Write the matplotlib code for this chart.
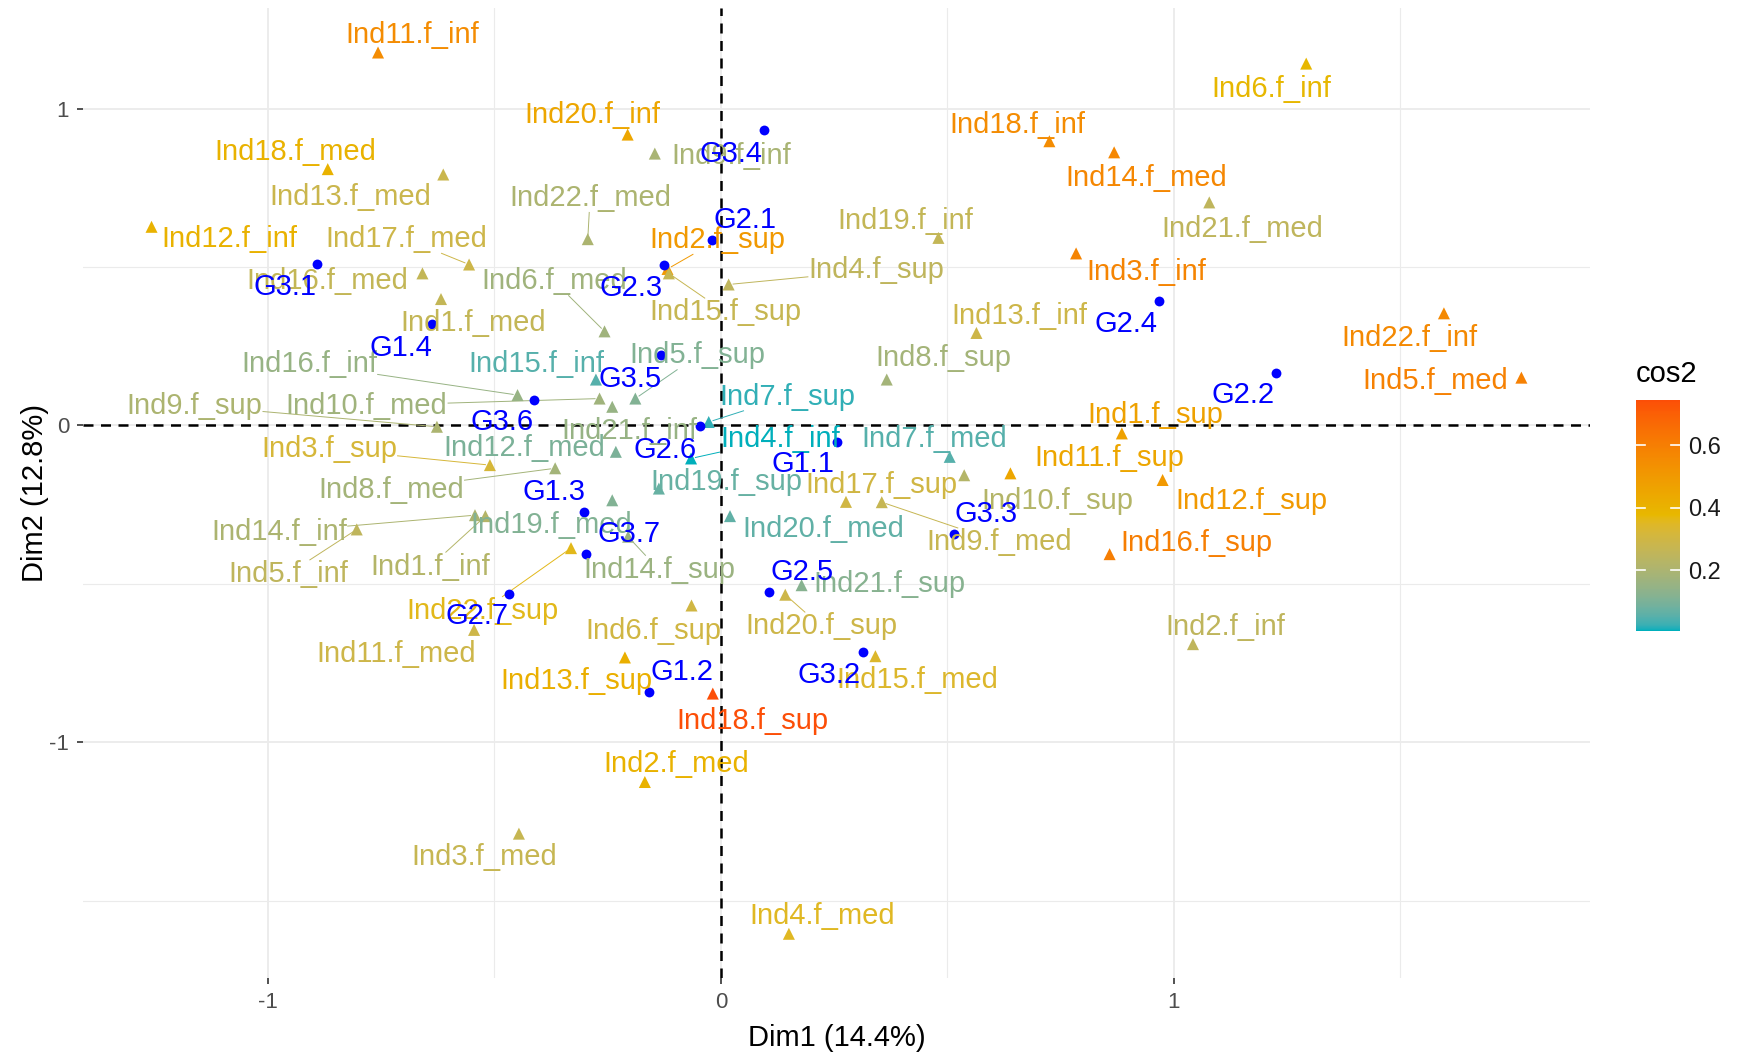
"""Individual factor map: partial points coloured by cos2, group points in blue."""

import matplotlib
matplotlib.use("Agg")
import matplotlib.pyplot as plt
import numpy as np
from matplotlib.cm import ScalarMappable
from matplotlib.colors import ListedColormap, Normalize, to_rgb

plt.rcParams["font.family"] = ["Liberation Sans", "DejaVu Sans"]
plt.rcParams["axes.unicode_minus"] = False

# ---- data: partial individuals (triangles) ---------------------------------
IND_NAMES = [
    "Ind1.f_inf", "Ind2.f_inf", "Ind3.f_inf", "Ind4.f_inf", "Ind5.f_inf",
    "Ind6.f_inf", "Ind9.f_inf", "Ind11.f_inf", "Ind12.f_inf", "Ind13.f_inf",
    "Ind14.f_inf", "Ind15.f_inf", "Ind16.f_inf", "Ind18.f_inf", "Ind19.f_inf",
    "Ind20.f_inf", "Ind21.f_inf", "Ind22.f_inf",
    "Ind1.f_med", "Ind2.f_med", "Ind3.f_med", "Ind4.f_med", "Ind5.f_med",
    "Ind6.f_med", "Ind7.f_med", "Ind8.f_med", "Ind9.f_med", "Ind10.f_med",
    "Ind11.f_med", "Ind12.f_med", "Ind13.f_med", "Ind14.f_med", "Ind15.f_med",
    "Ind16.f_med", "Ind17.f_med", "Ind18.f_med", "Ind19.f_med", "Ind20.f_med",
    "Ind21.f_med", "Ind22.f_med",
    "Ind1.f_sup", "Ind2.f_sup", "Ind3.f_sup", "Ind4.f_sup", "Ind5.f_sup",
    "Ind6.f_sup", "Ind7.f_sup", "Ind8.f_sup", "Ind9.f_sup", "Ind10.f_sup",
    "Ind11.f_sup", "Ind12.f_sup", "Ind13.f_sup", "Ind14.f_sup", "Ind15.f_sup",
    "Ind16.f_sup", "Ind17.f_sup", "Ind18.f_sup", "Ind19.f_sup", "Ind20.f_sup",
    "Ind21.f_sup", "Ind22.f_sup",
]
IND_DIM1 = [
    -0.520, 1.042, 0.784, -0.066, -0.804, 1.292, -0.146, -0.757, -1.257, 0.564,
    -0.543, -0.276, -0.449, 0.725, 0.480, -0.206, -0.240, 1.596,
    -0.618, -0.168, -0.446, 0.150, 1.767, -0.257, 0.505, -0.366, 0.355, -0.268,
    -0.545, -0.232, -0.613, 0.868, 0.341, -0.659, -0.556, -0.868, -0.240, 0.020,
    1.078, -0.294,
    0.885, -0.118, -0.510, 0.017, -0.189, -0.065, -0.027, 0.366, -0.627, 0.537,
    0.639, 0.975, -0.212, -0.205, -0.115, 0.858, 0.276, -0.018, -0.137, 0.142,
    0.178, -0.331,
]
IND_DIM2 = [
    -0.286, -0.690, 0.543, -0.104, -0.328, 1.142, 0.858, 1.177, 0.627, 0.292,
    -0.283, 0.145, 0.096, 0.897, 0.592, 0.918, 0.059, 0.354,
    0.399, -1.125, -1.288, -1.604, 0.151, 0.297, -0.099, -0.135, -0.242, 0.085,
    -0.645, -0.083, 0.792, 0.862, -0.728, 0.480, 0.508, 0.809, -0.236, -0.286,
    0.704, 0.588,
    -0.025, 0.494, -0.125, 0.445, 0.085, -0.568, 0.011, 0.145, -0.004, -0.157,
    -0.151, -0.172, -0.732, -0.351, 0.480, -0.406, -0.241, -0.846, -0.199, -0.534,
    -0.504, -0.387,
]
IND_COS2 = [
    0.22, 0.25, 0.58, 0.005, 0.25, 0.38, 0.19, 0.55, 0.40, 0.29,
    0.20, 0.05, 0.15, 0.55, 0.26, 0.45, 0.15, 0.56,
    0.26, 0.40, 0.27, 0.35, 0.59, 0.17, 0.05, 0.18, 0.27, 0.17,
    0.29, 0.10, 0.28, 0.57, 0.34, 0.26, 0.29, 0.40, 0.11, 0.06,
    0.25, 0.20,
    0.47, 0.50, 0.32, 0.25, 0.11, 0.30, 0.02, 0.18, 0.20, 0.22,
    0.45, 0.50, 0.41, 0.16, 0.27, 0.60, 0.30, 0.745, 0.07, 0.29,
    0.12, 0.36,
]

# ---- data: group points (blue dots) ----------------------------------------
GROUP_NAMES = [
    "G1.1", "G1.2", "G1.3", "G1.4",
    "G2.1", "G2.2", "G2.3", "G2.4", "G2.5", "G2.6", "G2.7",
    "G3.1", "G3.2", "G3.3", "G3.4", "G3.5", "G3.6", "G3.7",
]
GROUP_DIM1 = [
    0.257, -0.159, -0.303, -0.637,
    -0.020, 1.225, -0.125, 0.968, 0.105, -0.047, -0.468,
    -0.892, 0.314, 0.515, 0.096, -0.132, -0.412, -0.299,
]
GROUP_DIM2 = [
    -0.052, -0.841, -0.272, 0.319,
    0.585, 0.165, 0.508, 0.392, -0.525, -0.002, -0.531,
    0.511, -0.716, -0.341, 0.932, 0.221, 0.082, -0.406,
]

# ---- layout: where the repelled labels ended up (data units) ----------------
IND_LABEL_POS = {
    "Ind11.f_inf": (-0.681, 1.233), "Ind20.f_inf": (-0.284, 0.981),
    "Ind9.f_inf": (0.022, 0.851), "Ind18.f_med": (-0.939, 0.862),
    "Ind13.f_med": (-0.819, 0.722), "Ind22.f_med": (-0.289, 0.718),
    "Ind12.f_inf": (-1.086, 0.588), "Ind17.f_med": (-0.694, 0.588),
    "Ind2.f_sup": (-0.007, 0.585), "Ind19.f_inf": (0.407, 0.644),
    "Ind18.f_inf": (0.654, 0.949), "Ind14.f_med": (0.939, 0.781),
    "Ind6.f_inf": (1.216, 1.061), "Ind21.f_med": (1.150, 0.620),
    "Ind3.f_inf": (0.939, 0.483), "Ind4.f_sup": (0.343, 0.490),
    "Ind16.f_med": (-0.870, 0.455), "Ind6.f_med": (-0.368, 0.455),
    "Ind15.f_sup": (0.010, 0.357), "Ind13.f_inf": (0.659, 0.347),
    "Ind1.f_med": (-0.547, 0.322), "Ind22.f_inf": (1.520, 0.277),
    "Ind16.f_inf": (-0.909, 0.193), "Ind15.f_inf": (-0.407, 0.193),
    "Ind5.f_sup": (-0.051, 0.221), "Ind8.f_sup": (0.490, 0.214),
    "Ind5.f_med": (1.576, 0.140), "Ind7.f_sup": (0.147, 0.091),
    "Ind9.f_sup": (-1.162, 0.063), "Ind10.f_med": (-0.782, 0.063),
    "Ind21.f_inf": (-0.203, -0.018), "Ind1.f_sup": (0.958, 0.032),
    "Ind4.f_inf": (0.130, -0.042), "Ind7.f_med": (0.471, -0.042),
    "Ind3.f_sup": (-0.865, -0.074), "Ind12.f_med": (-0.434, -0.070),
    "Ind11.f_sup": (0.858, -0.102), "Ind8.f_med": (-0.728, -0.203),
    "Ind19.f_sup": (0.012, -0.179), "Ind17.f_sup": (0.355, -0.189),
    "Ind10.f_sup": (0.743, -0.238), "Ind12.f_sup": (1.172, -0.238),
    "Ind19.f_med": (-0.375, -0.315), "Ind20.f_med": (0.225, -0.326),
    "Ind14.f_inf": (-0.975, -0.336), "Ind9.f_med": (0.615, -0.368),
    "Ind16.f_sup": (1.049, -0.371), "Ind1.f_inf": (-0.642, -0.445),
    "Ind5.f_inf": (-0.956, -0.469), "Ind14.f_sup": (-0.137, -0.455),
    "Ind21.f_sup": (0.373, -0.501), "Ind22.f_sup": (-0.527, -0.585),
    "Ind6.f_sup": (-0.150, -0.648), "Ind20.f_sup": (0.221, -0.634),
    "Ind2.f_inf": (1.113, -0.637), "Ind11.f_med": (-0.718, -0.722),
    "Ind13.f_sup": (-0.319, -0.806), "Ind15.f_med": (0.434, -0.802),
    "Ind18.f_sup": (0.069, -0.932), "Ind2.f_med": (-0.098, -1.068),
    "Ind3.f_med": (-0.522, -1.363), "Ind4.f_med": (0.223, -1.548),
}
GROUP_LABEL_POS = {
    "G1.1": (0.181, -0.123), "G1.2": (-0.086, -0.778), "G1.3": (-0.368, -0.210),
    "G1.4": (-0.706, 0.245), "G2.1": (0.054, 0.648), "G2.2": (1.152, 0.095),
    "G2.3": (-0.199, 0.434), "G2.4": (0.895, 0.319), "G2.5": (0.179, -0.462),
    "G2.6": (-0.123, -0.077), "G2.7": (-0.539, -0.602), "G3.1": (-0.963, 0.438),
    "G3.2": (0.238, -0.788), "G3.3": (0.586, -0.280), "G3.4": (0.022, 0.858),
    "G3.5": (-0.201, 0.147), "G3.6": (-0.483, 0.011), "G3.7": (-0.203, -0.343),
}
# labels pushed far enough that ggrepel drew a leader segment
SEGMENTED = {
    "Ind22.f_med", "Ind17.f_med", "Ind6.f_med", "Ind2.f_sup", "Ind15.f_sup",
    "Ind4.f_sup", "Ind16.f_inf", "Ind9.f_sup", "Ind10.f_med", "Ind3.f_sup",
    "Ind8.f_med", "Ind14.f_inf", "Ind5.f_inf", "Ind1.f_inf", "Ind22.f_sup",
    "Ind5.f_sup", "Ind7.f_sup", "Ind4.f_inf", "Ind14.f_sup", "Ind9.f_med",
    "Ind20.f_sup",
}

GRADIENT = ["#00AFBB", "#E7B800", "#FC4E07"]
GROUP_COLOR = "#0000FF"
LABEL_SIZE = 21

_WHITE = np.array([0.95047, 1.0, 1.08883])
_M = np.array([[0.4124, 0.3576, 0.1805],
               [0.2126, 0.7152, 0.0722],
               [0.0193, 0.1192, 0.9505]])


def rgb_to_lab(rgb):
    c = np.asarray(rgb, float)
    c = np.where(c <= 0.04045, c / 12.92, ((c + 0.055) / 1.055) ** 2.4)
    xyz = _M @ c / _WHITE
    f = np.where(xyz > 0.008856, np.cbrt(xyz), 7.787 * xyz + 16 / 116)
    return np.array([116 * f[1] - 16, 500 * (f[0] - f[1]), 200 * (f[1] - f[2])])


def lab_to_rgb(lab):
    L, a, b = lab
    fy = (L + 16) / 116
    f = np.array([fy + a / 500, fy, fy - b / 200])
    xyz = np.where(f ** 3 > 0.008856, f ** 3, (f - 16 / 116) / 7.787) * _WHITE
    c = np.linalg.solve(_M, xyz)
    c = np.where(c <= 0.0031308, 12.92 * c, 1.055 * np.clip(c, 0, None) ** (1 / 2.4) - 0.055)
    return np.clip(c, 0, 1)


def lab_gradient(hexes, n=256):
    """Colour map interpolated in Lab space, like scales::gradient_n_pal."""
    labs = [rgb_to_lab(to_rgb(h)) for h in hexes]
    stops = np.linspace(0, 1, len(hexes))
    out = []
    for t in np.linspace(0, 1, n):
        i = min(np.searchsorted(stops, t, side="right") - 1, len(hexes) - 2)
        w = (t - stops[i]) / (stops[i + 1] - stops[i])
        out.append(lab_to_rgb((1 - w) * labs[i] + w * labs[i + 1]))
    return ListedColormap(out, name="cos2")


def add_segment(ax, text, x, y, color, renderer):
    """ggrepel-like segment from the label box edge to its point."""
    bb = text.get_window_extent(renderer)
    px, py = ax.transData.transform((x, y))
    cx, cy = (bb.x0 + bb.x1) / 2, (bb.y0 + bb.y1) / 2
    dx, dy = px - cx, py - cy
    tx = (bb.width / 2) / abs(dx) if dx else np.inf
    ty = (bb.height / 2) / abs(dy) if dy else np.inf
    t = min(tx, ty)
    sx, sy = cx + dx * t, cy + dy * t
    gap = np.hypot(px - sx, py - sy)
    if gap < 4:
        return
    ex, ey = px - (px - sx) / gap * 4, py - (py - sy) / gap * 4
    inv = ax.transData.inverted()
    (x0, y0), (x1, y1) = inv.transform([(sx, sy), (ex, ey)])
    ax.plot([x0, x1], [y0, y1], color=color, lw=0.7, zorder=2.5,
            solid_capstyle="butt")


def main():
    cmap = lab_gradient(GRADIENT)
    norm = Normalize(vmin=min(IND_COS2), vmax=max(IND_COS2))
    colors = cmap(norm(np.array(IND_COS2)))

    fig = plt.figure(figsize=(17.41, 10.56), dpi=100, facecolor="white")
    ax = fig.add_axes([0.0477, 0.074, 0.8655, 0.918])

    all_x = np.array(IND_DIM1 + GROUP_DIM1)
    all_y = np.array(IND_DIM2 + GROUP_DIM2)
    xr, yr = np.ptp(all_x), np.ptp(all_y)
    ax.set_xlim(all_x.min() - 0.05 * xr, all_x.max() + 0.05 * xr)
    ax.set_ylim(all_y.min() - 0.05 * yr, all_y.max() + 0.05 * yr)

    # theme_minimal-ish grid
    ax.set_xticks([-1, 0, 1])
    ax.set_yticks([-1, 0, 1])
    ax.set_xticks([-0.5, 0.5, 1.5], minor=True)
    ax.set_yticks([-1.5, -0.5, 0.5], minor=True)
    ax.grid(True, which="major", color="#EBEBEB", lw=1.3, zorder=0)
    ax.grid(True, which="minor", color="#EBEBEB", lw=0.8, zorder=0)
    ax.set_axisbelow(True)
    for spine in ax.spines.values():
        spine.set_visible(False)
    ax.tick_params(which="major", length=4, width=1.2, color="#333333",
                   labelsize=16, labelcolor="#4D4D4D", pad=6)
    ax.tick_params(which="minor", length=0)

    ax.axhline(0, color="black", lw=1.8, ls=(0, (4, 3)), zorder=1)
    ax.axvline(0, color="black", lw=1.8, ls=(0, (4, 3)), zorder=1)

    ax.scatter(IND_DIM1, IND_DIM2, marker="^", s=75, c=colors,
               linewidths=0, zorder=3)
    ax.scatter(GROUP_DIM1, GROUP_DIM2, marker="o", s=50, c=GROUP_COLOR,
               linewidths=0, zorder=3)

    texts = []
    for name, x, y, col in zip(IND_NAMES, IND_DIM1, IND_DIM2, colors):
        lx, ly = IND_LABEL_POS[name]
        t = ax.text(lx, ly, name, color=col, fontsize=LABEL_SIZE,
                    ha="center", va="center", zorder=4)
        if name in SEGMENTED:
            texts.append((t, x, y, col))
    for name in GROUP_NAMES:
        lx, ly = GROUP_LABEL_POS[name]
        ax.text(lx, ly, name, color=GROUP_COLOR, fontsize=LABEL_SIZE,
                ha="center", va="center", zorder=4)

    ax.set_xlabel("Dim1 (14.4%)", fontsize=21, color="black", labelpad=8)
    ax.set_ylabel("Dim2 (12.8%)", fontsize=21, color="black", labelpad=0)

    fig.canvas.draw()
    renderer = fig.canvas.get_renderer()
    for t, x, y, col in texts:
        add_segment(ax, t, x, y, col, renderer)

    # cos2 colour bar
    cax = fig.add_axes([0.9397, 0.4025, 0.0253, 0.219])
    cb = fig.colorbar(ScalarMappable(norm=norm, cmap=cmap), cax=cax)
    cb.outline.set_visible(False)
    ticks = [0.2, 0.4, 0.6]
    cb.set_ticks(ticks)
    cb.set_ticklabels(["0.2", "0.4", "0.6"])
    cax.tick_params(length=0, labelsize=17, labelcolor="#1A1A1A", pad=6)
    for v in ticks:
        cax.axhline(v, xmin=0, xmax=0.2, color="white", lw=1.2)
        cax.axhline(v, xmin=0.8, xmax=1, color="white", lw=1.2)
    fig.text(0.9397, 0.646, "cos2", fontsize=21, color="black",
             ha="left", va="center")

    fig.savefig("out.png", dpi=100, facecolor="white")


if __name__ == "__main__":
    main()
